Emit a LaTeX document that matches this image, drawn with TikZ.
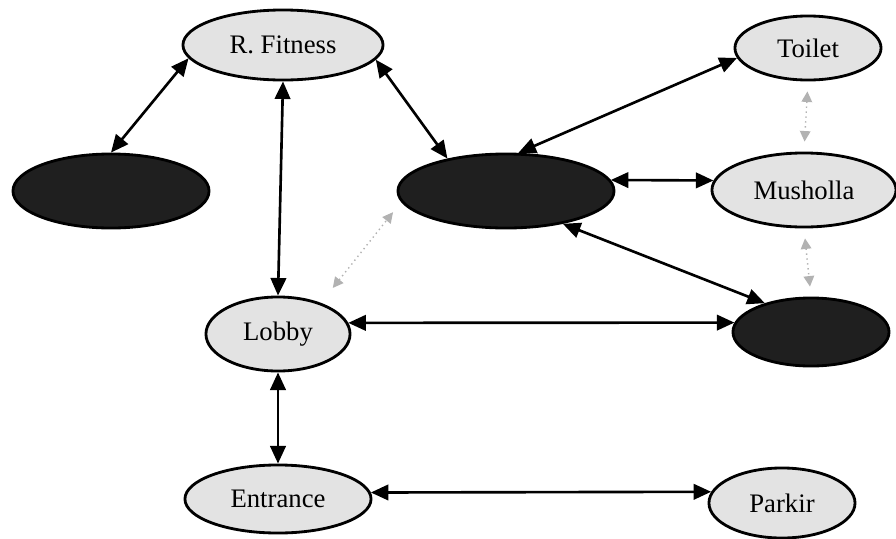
\documentclass[tikz,border=0pt]{standalone}
\usepackage{fontspec}
\setmainfont{Liberation Serif}
\usetikzlibrary{arrows.meta,shapes.geometric}

\begin{document}
\begin{tikzpicture}[x=0.01cm,y=-0.01cm,<->,>={Triangle[length=5pt,width=4.4pt]},
                    line width=0.75pt]
  \tikzstyle{room}=[ellipse,draw,line width=0.8pt,fill=black!11,inner sep=0pt,
                    font=\fontsize{7.6}{9}\selectfont]
  \tikzstyle{darkroom}=[room,fill=black!88]
  \tikzstyle{faint}=[densely dotted,draw=black!30,thin,
                     >={Triangle[length=3pt,width=3pt]}]

  \useasboundingbox (0,0) rectangle (896,539);

  \node[room,minimum width=2cm,minimum height=0.7cm]       (RF) at (283,45)  {R. Fitness};
  \node[room,minimum width=1.46cm,minimum height=0.64cm]   (TO) at (808,48)  {Toilet};
  \node[darkroom,minimum width=1.96cm,minimum height=0.74cm] (DL) at (111,191) {};
  \node[darkroom,minimum width=2.16cm,minimum height=0.74cm] (DC) at (506,191) {};
  \node[room,minimum width=1.84cm,minimum height=0.74cm]   (MU) at (804,190) {Musholla};
  \node[room,minimum width=1.44cm,minimum height=0.74cm]   (LO) at (278,334) {Lobby};
  \node[darkroom,minimum width=1.56cm,minimum height=0.68cm] (DR) at (811,332) {};
  \node[room,minimum width=1.86cm,minimum height=0.68cm]   (EN) at (278,499) {Entrance};
  \node[room,minimum width=1.46cm,minimum height=0.7cm]    (PA) at (782,503) {Parkir};

  \draw (RF.188) -- (DL.north);
  \draw (RF.south) -- (LO.north);
  \draw (RF.-9) -- (DC.151);
  \draw (TO.188) -- (DC.72);
  \draw (DC.6) -- (MU.174);
  \draw (DC.-30) -- (DR.148);
  \draw (LO.9) -- (DR.173);
  \draw (LO.south) -- (EN.north);
  \draw (EN.4) -- (PA.171);

  % light links
  \draw[faint,shorten <=0.19cm,shorten >=0.13cm] (LO.36) -- (DC.186);
  \draw[faint,shorten <=0.1cm,shorten >=0.1cm] (TO.south) -- (MU.north);
  \draw[faint,shorten <=0.1cm,shorten >=0.1cm] (MU.south) -- (DR.north);

\end{tikzpicture}
\end{document}
